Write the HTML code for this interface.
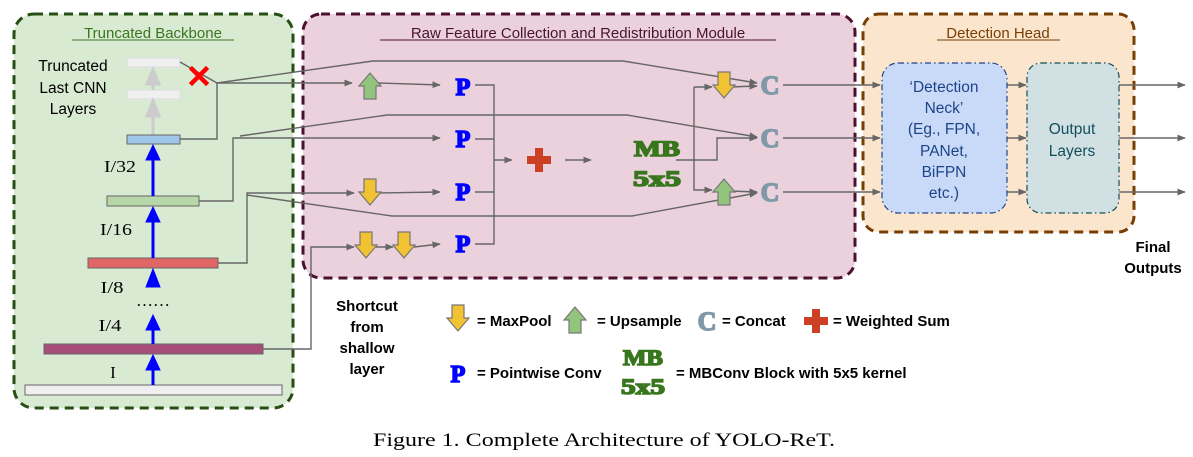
<!DOCTYPE html>
<html><head><meta charset="utf-8"><style>
html,body{margin:0;padding:0;background:#fff;}
svg{display:block;}
.s{font-family:"Liberation Sans",sans-serif;}
.b{font-family:"Liberation Sans",sans-serif;font-weight:bold;}
.sr{font-family:"Liberation Serif","Times New Roman",serif;}
</style></head><body>
<svg width="1193" height="457" viewBox="0 0 1193 457" xmlns="http://www.w3.org/2000/svg">
<defs>
<marker id="ah" viewBox="0 0 10 10" refX="9" refY="5" markerWidth="6" markerHeight="6" orient="auto"><path d="M0,1 L10,5 L0,9 z" fill="#666"/></marker>
<g id="dn"><path d="M-6,-13 L6,-13 L6,0 L11,0 L0,13 L-11,0 L-6,0 Z" fill="#f1c232" stroke="#777" stroke-width="1.2"/></g>
<g id="up"><path d="M-6,13 L6,13 L6,0 L11,0 L0,-13 L-11,0 L-6,0 Z" fill="#93c47d" stroke="#777" stroke-width="1.2"/></g>
<g id="plus"><path d="M-4,-12 L4,-12 L4,-4 L12,-4 L12,4 L4,4 L4,12 L-4,12 L-4,4 L-12,4 L-12,-4 L-4,-4 Z" fill="#cc4125"/></g>
</defs>

<rect x="14" y="14" width="279" height="394" rx="20" fill="#d9ead3" stroke="#274e13" stroke-width="3" stroke-dasharray="9,6"/>
<rect x="303" y="14" width="552" height="264" rx="18" fill="#ead1dc" stroke="#4c1130" stroke-width="3" stroke-dasharray="9,6"/>
<rect x="863" y="14" width="271" height="218" rx="16" fill="#fce5cd" stroke="#783f04" stroke-width="3" stroke-dasharray="9,6"/>

<text x="153" y="38" text-anchor="middle" class="s" font-size="15" fill="#38761d">Truncated Backbone</text>
<line x1="72" y1="40" x2="234" y2="40" stroke="#38761d" stroke-width="1"/>
<text x="578" y="38" text-anchor="middle" class="s" font-size="15" fill="#4c1130">Raw Feature Collection and Redistribution Module</text>
<line x1="380" y1="40" x2="776" y2="40" stroke="#4c1130" stroke-width="1"/>
<text x="998" y="38" text-anchor="middle" class="s" font-size="15" fill="#783f04">Detection Head</text>
<line x1="937" y1="40" x2="1060" y2="40" stroke="#783f04" stroke-width="1"/>

<text class="s" font-size="15.5" fill="#000" text-anchor="middle"><tspan x="73" y="71">Truncated</tspan><tspan x="73" y="93">Last CNN</tspan><tspan x="73" y="114">Layers</tspan></text>
<rect x="127" y="58" width="53" height="9" fill="#efefef" stroke="#ddd"/>
<rect x="127" y="90" width="53" height="9" fill="#efefef" stroke="#ddd"/>
<path d="M153,90 L153,80 M147,84 L153,70 L159,84 Z" stroke="#ccc" stroke-width="3" fill="#ccc"/>
<path d="M153,135 L153,112 M147,116 L153,101 L159,116 Z" stroke="#ccc" stroke-width="3" fill="#ccc"/>
<rect x="127" y="135" width="53" height="9" fill="#9fc5e8" stroke="#666"/>
<rect x="107" y="196" width="92" height="10" fill="#b6d7a8" stroke="#666"/>
<rect x="88" y="258" width="130" height="10" fill="#e06666" stroke="#666"/>
<rect x="44" y="344" width="219" height="10" fill="#a64d79" stroke="#666"/>
<rect x="25" y="385" width="257" height="10" fill="#efefef" stroke="#666"/>
<g fill="#0000ff" stroke="#0000ff">
<line x1="153" y1="196" x2="153" y2="155" stroke-width="3"/><path d="M146,160 L153,145 L160,160 Z"/>
<line x1="153" y1="258" x2="153" y2="217" stroke-width="3"/><path d="M146,222 L153,207 L160,222 Z"/>
<path d="M146,287 L153,269 L160,287 Z"/>
<line x1="153" y1="344" x2="153" y2="325" stroke-width="3"/><path d="M146,330 L153,315 L160,330 Z"/>
<line x1="153" y1="385" x2="153" y2="365" stroke-width="3"/><path d="M146,370 L153,355 L160,370 Z"/>
</g>
<g class="sr" font-size="17" fill="#000" text-anchor="middle">
<text x="120" y="172" textLength="32" lengthAdjust="spacingAndGlyphs">I/32</text>
<text x="116" y="235" textLength="32" lengthAdjust="spacingAndGlyphs">I/16</text>
<text x="112" y="293" textLength="23" lengthAdjust="spacingAndGlyphs">I/8</text>
<text x="110" y="331" textLength="23" lengthAdjust="spacingAndGlyphs">I/4</text>
<text x="113" y="378">I</text><text x="153" y="306">……</text>
</g>

<g fill="none" stroke="#666" stroke-width="1.4">
<path d="M180,62 L217,83"/>
<path d="M180,139 L217,139 L217,83 L352,83" marker-end="url(#ah)"/>
<path d="M217,83 L373,61 L623,61 L757,83" marker-end="url(#ah)"/>
<path d="M378,83 L440,85" marker-end="url(#ah)"/>
<path d="M199,201 L233,201 L233,138 L440,138" marker-end="url(#ah)"/>
<path d="M240,136 L387,115 L627,115 L757,137" marker-end="url(#ah)"/>
<path d="M218,263 L247,263 L247,193 L354,193" marker-end="url(#ah)"/>
<path d="M380,193 L440,192" marker-end="url(#ah)"/>
<path d="M247,195 L392,216 L632,216 L757,193" marker-end="url(#ah)"/>
<path d="M263,349 L311,349 L311,247 L354,247" marker-end="url(#ah)"/>
<path d="M376,247 L393,247" marker-end="url(#ah)"/>
<path d="M414,247 L440,244" marker-end="url(#ah)"/>
<path d="M475,85 L494,85 L494,244 L475,244 M475,139 L494,139 M475,192 L494,192" />
<path d="M494,160 L512,160" marker-end="url(#ah)"/>
<path d="M565,160 L591,160" marker-end="url(#ah)"/>
<path d="M676,160 L717,160 L717,138 L757,138" marker-end="url(#ah)"/>
<path d="M694,87 L694,190 L712,190" marker-end="url(#ah)"/>
<path d="M694,87 L712,87" marker-end="url(#ah)"/>
<path d="M730,87 L757,86" marker-end="url(#ah)"/>
<path d="M730,191 L757,192" marker-end="url(#ah)"/>
<path d="M783,85 L880,85" marker-end="url(#ah)"/>
<path d="M783,138 L880,138" marker-end="url(#ah)"/>
<path d="M783,192 L880,192" marker-end="url(#ah)"/>
<path d="M1007,85 L1026,85" marker-end="url(#ah)"/>
<path d="M1007,138 L1026,138" marker-end="url(#ah)"/>
<path d="M1007,192 L1026,192" marker-end="url(#ah)"/>
<path d="M1119,85 L1185,85" marker-end="url(#ah)"/>
<path d="M1119,138 L1185,138" marker-end="url(#ah)"/>
<path d="M1119,192 L1185,192" marker-end="url(#ah)"/>
</g>
<g stroke="#ff0000" stroke-width="4.5" stroke-linecap="square"><line x1="192" y1="69" x2="206" y2="83"/><line x1="206" y1="69" x2="192" y2="83"/></g>

<use href="#up" x="370" y="86"/>
<use href="#dn" x="370" y="192"/>
<use href="#dn" x="366" y="245"/>
<use href="#dn" x="404" y="245"/>
<use href="#dn" x="724" y="85"/>
<use href="#up" x="724" y="192"/>
<g class="sr" font-weight="bold" font-size="24" fill="#0000ff" stroke="#0000ff" stroke-width="1.5" text-anchor="middle">
<text x="463" y="95">P</text><text x="463" y="147">P</text><text x="463" y="200">P</text><text x="463" y="252">P</text>
</g>
<use href="#plus" x="539" y="160"/>
<g class="sr" font-weight="bold" font-size="22" fill="#38761d" stroke="#38761d" stroke-width="1.5" text-anchor="middle">
<text x="657" y="156" textLength="46" lengthAdjust="spacingAndGlyphs">MB</text>
<text x="657" y="186" textLength="48" lengthAdjust="spacingAndGlyphs">5x5</text>
</g>
<g class="sr" font-weight="bold" font-size="26" fill="#7f99a8" stroke="#7f99a8" stroke-width="1.5" text-anchor="middle">
<text x="770" y="94">C</text><text x="770" y="147">C</text><text x="770" y="201">C</text>
</g>

<rect x="882" y="63" width="125" height="150" rx="16" fill="#c9daf8" stroke="#1c4587" stroke-width="1.2" stroke-dasharray="6,3,1.5,3"/>
<rect x="1027" y="63" width="92" height="150" rx="14" fill="#d0e0e3" stroke="#134f5c" stroke-width="1.2" stroke-dasharray="6,3,1.5,3"/>
<g class="s" font-size="15.5" fill="#1c4587" text-anchor="middle">
<text x="944" y="92">‘Detection</text><text x="944" y="113">Neck’</text><text x="944" y="134">(Eg., FPN,</text>
<text x="944" y="156">PANet,</text><text x="944" y="177">BiFPN</text><text x="944" y="198">etc.)</text>
</g>
<g class="s" font-size="15.5" fill="#134f5c" text-anchor="middle"><text x="1072" y="134">Output</text><text x="1072" y="156">Layers</text></g>
<g class="b" font-size="15" fill="#000" text-anchor="middle"><text x="1153" y="252">Final</text><text x="1153" y="273">Outputs</text></g>

<g class="b" font-size="15" fill="#000" text-anchor="middle">
<text x="367" y="311">Shortcut</text><text x="367" y="332">from</text><text x="367" y="353">shallow</text><text x="367" y="374">layer</text>
</g>

<use href="#dn" x="458" y="318"/>
<use href="#up" x="575" y="320"/>
<text x="707" y="330" class="sr" font-weight="bold" font-size="26" fill="#7f99a8" stroke="#7f99a8" stroke-width="1.5" text-anchor="middle">C</text>
<use href="#plus" x="816" y="321"/>
<text x="458" y="382" class="sr" font-weight="bold" font-size="24" fill="#0000ff" stroke="#0000ff" stroke-width="1.5" text-anchor="middle">P</text>
<g class="sr" font-weight="bold" font-size="22" fill="#38761d" stroke="#38761d" stroke-width="1.5" text-anchor="middle">
<text x="643" y="365" textLength="40" lengthAdjust="spacingAndGlyphs">MB</text>
<text x="643" y="394" textLength="44" lengthAdjust="spacingAndGlyphs">5x5</text>
</g>
<g class="b" font-size="15" fill="#000">
<text x="477" y="326">=  MaxPool</text>
<text x="597" y="326">=  Upsample</text>
<text x="722" y="326">=  Concat</text>
<text x="833" y="326">=  Weighted Sum</text>
<text x="477" y="378">=  Pointwise Conv</text>
<text x="676" y="378">=  MBConv Block with 5x5 kernel</text>
</g>

<text x="604" y="446" text-anchor="middle" class="sr" font-size="19" fill="#000" textLength="462" lengthAdjust="spacingAndGlyphs">Figure 1. Complete Architecture of YOLO-ReT.</text>
</svg>
</body></html>
